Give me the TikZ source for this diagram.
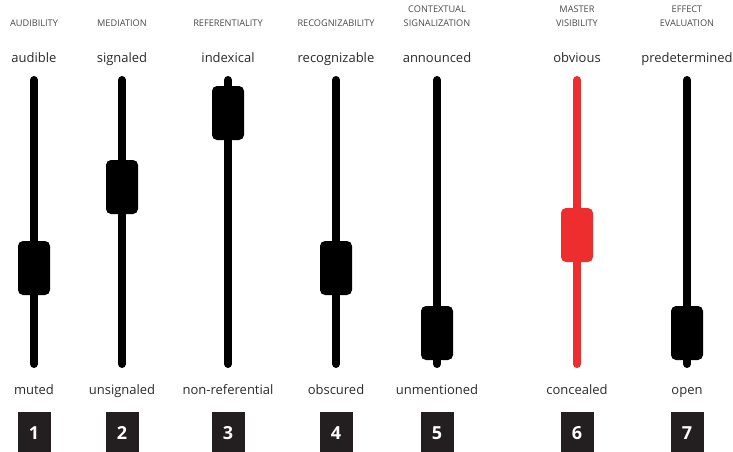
\documentclass[tikz,border=0pt]{standalone}
\usepackage{fontspec}
\setmainfont{Open Sans}
\definecolor{ink}{HTML}{2B2B2B}
\definecolor{capgray}{HTML}{4A4A4A}
\definecolor{boxdark}{HTML}{231F20}
\definecolor{alertred}{HTML}{EE2E2E}
\begin{document}
\begin{tikzpicture}[x=1pt,y=-1pt,
  heading/.style={font=\fontsize{9.2}{14}\selectfont, text=capgray, align=center, anchor=base, inner sep=0pt},
  endlabel/.style={font=\fontsize{13}{15}\selectfont, text=ink, anchor=base, inner sep=0pt},
  track/.style={line width=8pt, line cap=round, draw=#1},
  knob/.style={rectangle, rounded corners=5pt, fill=#1, minimum width=32pt, minimum height=54pt, inner sep=0pt},
  numbox/.style={rectangle, fill=boxdark, text=white, minimum width=33pt, minimum height=42pt, inner sep=0pt,
    font=\fontsize{18}{18}\bfseries\selectfont}]
\useasboundingbox (0,0) rectangle (733,452);
\fill[white] (0,0) rectangle (733,452);
% column: name / x / knob centre / colour / heading / top word / bottom word / number
\foreach \n/\x/\k/\c/\h/\t/\b in {
  1/34/268/black/AUDIBILITY/audible/muted,
  2/122/187/black/MEDIATION/signaled/unsignaled,
  3/228/113/black/REFERENTIALITY/indexical/non-referential,
  4/336/268/black/RECOGNIZABILITY/recognizable/obscured,
  5/437/333/black/{CONTEXTUAL\\SIGNALIZATION}/announced/unmentioned,
  6/577/235/alertred/{MASTER\\VISIBILITY}/obvious/concealed,
  7/687/333/black/{EFFECT\\EVALUATION}/predetermined/open} {
  \node[heading] (head\n) at (\x,26.5) {\h};
  \node[endlabel] (top\n) at (\x,63) {\t};
  \node[endlabel] (bot\n) at (\x,394) {\b};
  \coordinate (up\n) at (\x,80);
  \coordinate (down\n) at (\x,364);
  \draw[track=\c] (up\n) -- (down\n);
  \node[knob=\c] (knob\n) at (\x,\k) {};
  \node[numbox] (num\n) at (\x,433) {\n};
}
\end{tikzpicture}
\end{document}
